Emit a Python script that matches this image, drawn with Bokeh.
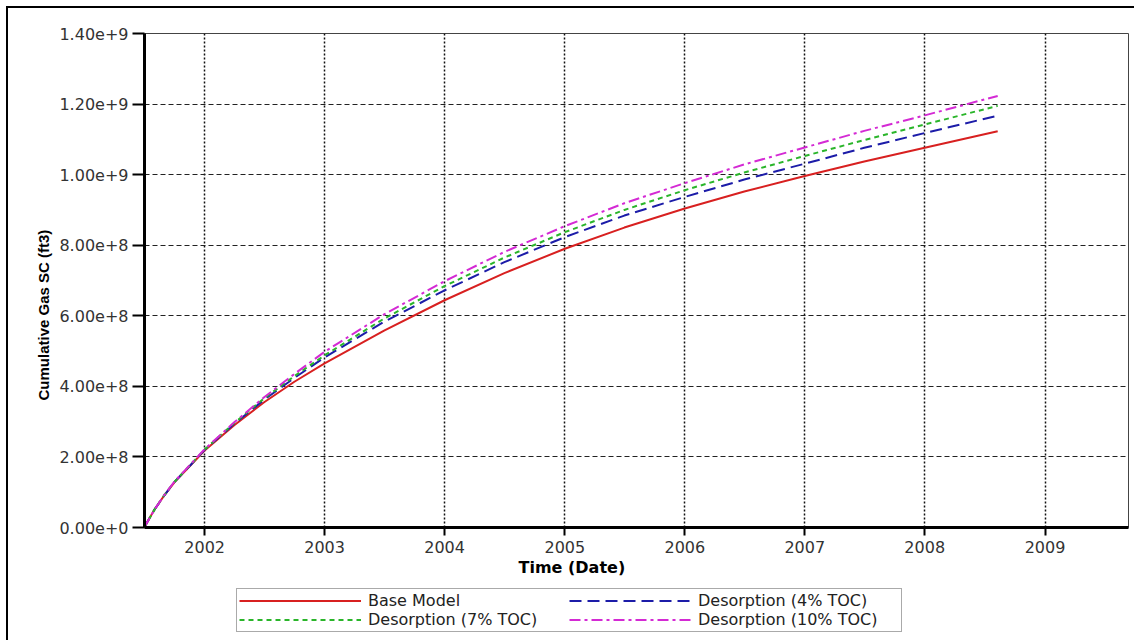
import pandas as pd
from bokeh.plotting import figure
from bokeh.layouts import column
from bokeh.models import (ColumnDataSource, Range1d, FixedTicker, DatetimeTickFormatter,
                          CustomJSTickFormatter, Legend, LegendItem, Title)
from bokeh.embed import file_html
from bokeh.resources import INLINE

# Cumulative gas production at standard conditions (ft3)
dates = ["2001-07-01", "2001-08-01", "2001-09-01", "2001-10-01", "2001-11-15",
         "2002-01-01", "2002-04-01", "2002-07-01", "2002-10-01", "2003-01-01",
         "2003-07-01", "2004-01-01", "2004-07-01", "2005-01-01", "2005-07-01",
         "2006-01-01", "2006-07-01", "2007-01-01", "2007-07-01", "2008-01-01",
         "2008-08-10"]
base_model = [0.0, 0.50e8, 0.92e8, 1.28e8, 1.72e8, 2.18e8, 2.90e8, 3.55e8, 4.13e8, 4.65e8,
              5.58e8, 6.44e8, 7.21e8, 7.90e8, 8.50e8, 9.04e8, 9.52e8, 9.96e8, 10.37e8,
              10.76e8, 11.23e8]
desorption_4 = [0.0, 0.50e8, 0.92e8, 1.29e8, 1.73e8, 2.20e8, 2.94e8, 3.62e8, 4.24e8, 4.82e8,
                5.83e8, 6.72e8, 7.52e8, 8.23e8, 8.84e8, 9.37e8, 9.86e8, 10.31e8, 10.76e8,
                11.18e8, 11.67e8]
desorption_7 = [0.0, 0.50e8, 0.93e8, 1.29e8, 1.74e8, 2.21e8, 2.96e8, 3.66e8, 4.29e8, 4.88e8,
                5.92e8, 6.84e8, 7.65e8, 8.37e8, 9.00e8, 9.56e8, 10.06e8, 10.53e8, 10.98e8,
                11.42e8, 11.95e8]
desorption_10 = [0.0, 0.50e8, 0.93e8, 1.30e8, 1.75e8, 2.22e8, 2.98e8, 3.69e8, 4.35e8, 4.98e8,
                 6.04e8, 6.98e8, 7.81e8, 8.54e8, 9.19e8, 9.76e8, 10.29e8, 10.77e8, 11.24e8,
                 11.68e8, 12.23e8]

series_labels = ["Base Model", "Desorption (4% TOC)", "Desorption (7% TOC)", "Desorption (10% TOC)"]
tick_years = [2002, 2003, 2004, 2005, 2006, 2007, 2008, 2009]
y_ticks = [0, 2e8, 4e8, 6e8, 8e8, 1.0e9, 1.2e9, 1.4e9]

x_lo = pd.Timestamp("2001-07-02")
x_hi = pd.Timestamp("2009-09-12")
Y_MAX = 1.4e9

# line styles per series: colour, dash
styles = [("#d82020", "solid"), ("#1c1ca8", "12 6"), ("#2ab52a", "5 4"), ("#d42ad4", "11 4 3 4")]

src = ColumnDataSource(dict(
    date=pd.to_datetime(dates),
    base=base_model, d4=desorption_4, d7=desorption_7, d10=desorption_10,
))

p = figure(width=1126, height=578, x_axis_type="datetime", output_backend="svg",
           toolbar_location=None, title=None,
           x_range=Range1d(x_lo, x_hi), y_range=Range1d(0, Y_MAX),
           min_border_left=136, min_border_right=6, min_border_top=25, min_border_bottom=59,
           background_fill_color="white", border_fill_color="white")
p.outline_line_color = "#444444"
p.outline_line_width = 1

for col, (color, dash) in zip(["base", "d4", "d7", "d10"], styles):
    p.line("date", col, source=src, line_color=color, line_width=2, line_dash=dash)

# axes
xa = p.xaxis[0]
xa.ticker = FixedTicker(ticks=[pd.Timestamp(f"{y}-01-01").value / 1e6 for y in tick_years])
xa.formatter = DatetimeTickFormatter(years="%Y", months="%Y", days="%Y", hours="%Y",
                                     minutes="%Y", seconds="%Y", milliseconds="%Y")
ya = p.yaxis[0]
ya.ticker = FixedTicker(ticks=y_ticks)
ya.formatter = CustomJSTickFormatter(code="return tick.toExponential(2);")

for ax in (xa, ya):
    ax.axis_line_color = "black"
    ax.axis_line_width = 3
    ax.major_tick_line_color = "black"
    ax.major_tick_line_width = 2
    ax.major_tick_in = 0
    ax.minor_tick_line_color = None
    ax.major_label_text_font = "DejaVu Sans"
    ax.major_label_text_font_size = "16px"
    ax.major_label_text_color = "#333333"
xa.major_tick_out = 8
xa.major_label_standoff = 5
ya.major_tick_out = 12
ya.major_label_standoff = 4

# grid
p.xgrid.grid_line_color = "#111111"
p.xgrid.grid_line_width = 1.5
p.xgrid.grid_line_dash = "2 2"
p.ygrid.grid_line_color = "#222222"
p.ygrid.grid_line_width = 1.2
p.ygrid.grid_line_dash = "5 3"

# axis titles
p.add_layout(Title(text="Cumulative Gas SC (ft3)", align="left", offset=127, standoff=9,
                   text_font="Liberation Sans", text_font_style="bold",
                   text_font_size="15px", text_color="black"), "left")
p.add_layout(Title(text="Time (Date)", align="left", offset=374, standoff=0,
                   text_font="DejaVu Sans", text_font_style="bold",
                   text_font_size="16px", text_color="black"), "below")

# legend strip under the chart; its keys are empty lines carrying the series styles
lg = figure(width=1126, height=60, output_backend="svg", toolbar_location=None, title=None,
            x_range=Range1d(0, 1), y_range=Range1d(0, 1),
            x_axis_location=None, y_axis_location=None, min_border=0,
            background_fill_color="white", border_fill_color="white")
lg.outline_line_color = None
lg.grid.visible = False
nan = float("nan")
keys = [lg.line(x=[nan], y=[nan], line_color=c, line_width=2, line_dash=d) for c, d in styles]

legend = Legend(
    items=[LegendItem(label=lab, renderers=[r]) for lab, r in zip(series_labels, keys)],
    orientation="horizontal", ncols=2, location=(92, 14),
    glyph_width=122, glyph_height=15, label_height=15, label_width=201,
    label_standoff=7, spacing=0, padding=2, margin=0,
    label_text_font="DejaVu Sans", label_text_font_size="16px", label_text_color="#222222",
    border_line_color="#555555", border_line_width=1,
    background_fill_color="white", background_fill_alpha=1.0,
)
lg.add_layout(legend, "center")

page = column(p, lg, spacing=0,
              styles={"margin-left": "6px", "margin-top": "6px",
                      "border-left": "2px solid #000", "border-top": "2px solid #000"})

open("out.html", "w").write(file_html(page, INLINE))
